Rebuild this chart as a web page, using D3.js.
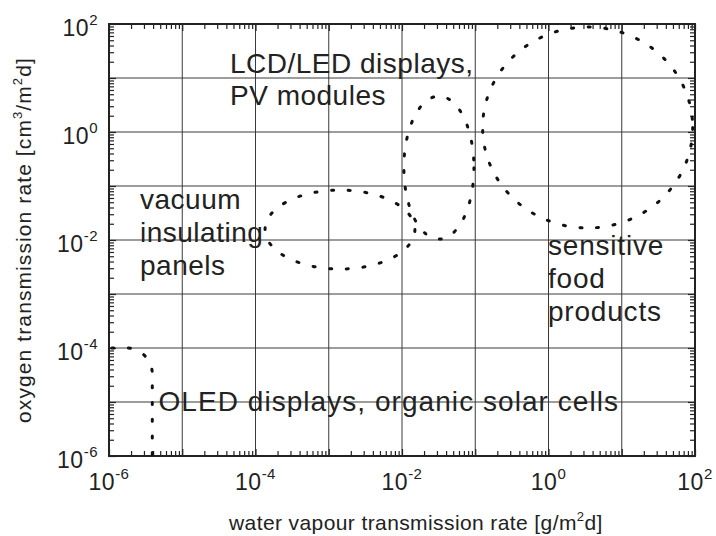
<!DOCTYPE html>
<html>
<head>
<meta charset="utf-8">
<script src="https://cdn.jsdelivr.net/npm/d3@7"></script>
<style>
  body { margin: 0; background: #fff; }
  svg { display: block; }
  text { font-family: "Liberation Sans", Arial, Helvetica, sans-serif; fill: #222; }
</style>
</head>
<body>
<svg id="chart" width="716" height="536"></svg>
<script>
// Axis decades (log10 exponents) and the ones that carry a label
const decadeExponents = [-6, -5, -4, -3, -2, -1, 0, 1, 2];
const xLabelExponents = [-6, -4, -2, 0, 2];
const yLabelExponents = [-6, -4, -2, 0, 2];
const minorMultipliers = [2, 3, 4, 5, 6, 7, 8, 9];

// Barrier requirement regions: water vapour (g/m²d) and oxygen (cm³/m²d) ranges
const regionNames = ["vacuum insulating panels", "LCD/LED displays, PV modules", "sensitive food products"];
const wvtrLow  = [1.35e-4, 1.06e-2, 0.126];
const wvtrHigh = [1.5e-2,  9.6e-2,  93];
const otrLow   = [2.9e-3,  1.04e-2, 1.67e-2];
const otrHigh  = [8.4e-2,  4.6,     88];

// OLED region: everything below these limits
const oledWvtrMax = 3.9e-6;
const oledOtrMax = 1e-4;
const oledWvtrMin = 1e-7;
const oledOtrMin = 1e-8;

// Region captions
const captionLines = [
  ["LCD/LED displays,", "PV modules"],
  ["vacuum", "insulating", "panels"],
  ["sensitive", "food", "products"],
  ["OLED displays, organic solar cells"]
];

const svg = d3.select("#chart");
const plotLeft = 109, plotRight = 695, plotTop = 24, plotBottom = 456;

const x = d3.scaleLog().domain([1e-6, 1e2]).range([plotLeft, plotRight]);
const y = d3.scaleLog().domain([1e-6, 1e2]).range([plotBottom, plotTop]);

const majors = decadeExponents.map(e => Math.pow(10, e));
const minors = [];
decadeExponents.slice(0, -1).forEach(e => minorMultipliers.forEach(m => minors.push(m * Math.pow(10, e))));

// Grid at every decade
const grid = svg.append("g").attr("stroke", "#3a3a3a").attr("stroke-width", 1);
grid.selectAll("line.gx").data(majors.slice(1, -1)).join("line")
  .attr("x1", d => x(d)).attr("x2", d => x(d)).attr("y1", plotTop).attr("y2", plotBottom);
grid.selectAll("line.gy").data(majors.slice(1, -1)).join("line")
  .attr("y1", d => y(d)).attr("y2", d => y(d)).attr("x1", plotLeft).attr("x2", plotRight);

// Inward ticks on all four sides
function tickAxis(axisFn, scale, transform) {
  const gMinor = svg.append("g").attr("transform", transform)
    .call(axisFn(scale).tickValues(minors).tickSize(-5).tickFormat(""));
  const gMajor = svg.append("g").attr("transform", transform)
    .call(axisFn(scale).tickValues(majors).tickSize(-7).tickFormat(""));
  [gMinor, gMajor].forEach(g => {
    g.select(".domain").remove();
    g.selectAll(".tick line").attr("stroke", "#222").attr("stroke-width", 1.2);
  });
}
tickAxis(d3.axisBottom, x, `translate(0,${plotBottom})`);
tickAxis(d3.axisTop, x, `translate(0,${plotTop})`);
tickAxis(d3.axisLeft, y, `translate(${plotLeft},0)`);
tickAxis(d3.axisRight, y, `translate(${plotRight},0)`);

// Frame
svg.append("rect").attr("x", plotLeft).attr("y", plotTop)
  .attr("width", plotRight - plotLeft).attr("height", plotBottom - plotTop)
  .attr("fill", "none").attr("stroke", "#222").attr("stroke-width", 2);

// Tick labels as 10 with superscript exponent
function powerLabel(sel, exp) {
  sel.append("tspan").text("10");
  sel.append("tspan").attr("dy", -11).attr("font-size", 15).text(exp);
}
svg.append("g").selectAll("text").data(xLabelExponents).join("text")
  .attr("x", d => x(Math.pow(10, d))).attr("y", 490)
  .attr("text-anchor", "middle").attr("font-size", 23).attr("letter-spacing", 0.5)
  .each(function(d) { powerLabel(d3.select(this), d); });
svg.append("g").selectAll("text").data(yLabelExponents).join("text")
  .attr("x", 98).attr("y", d => y(Math.pow(10, d)) + 12)
  .attr("text-anchor", "end").attr("font-size", 23).attr("letter-spacing", 0.5)
  .each(function(d) { powerLabel(d3.select(this), d); });

// Axis titles
const xt = svg.append("text").attr("x", 229).attr("y", 530)
  .attr("font-size", 21).attr("letter-spacing", 0.4);
xt.append("tspan").text("water vapour transmission rate [g/m");
xt.append("tspan").attr("dy", -9).attr("font-size", 13).text("2");
xt.append("tspan").attr("dy", 9).text("d]");

const yt = svg.append("text").attr("transform", `translate(31,${(plotTop + plotBottom) / 2}) rotate(-90)`)
  .attr("text-anchor", "middle").attr("font-size", 21).attr("letter-spacing", 1.1);
yt.append("tspan").text("oxygen transmission rate [cm");
yt.append("tspan").attr("dy", -9).attr("font-size", 13).text("3");
yt.append("tspan").attr("dy", 9).text("/m");
yt.append("tspan").attr("dy", -9).attr("font-size", 13).text("2");
yt.append("tspan").attr("dy", 9).text("d]");

// Dotted region outlines, clipped to the plot area
svg.append("clipPath").attr("id", "plotClip").append("rect")
  .attr("x", plotLeft).attr("y", plotTop).attr("width", plotRight - plotLeft).attr("height", plotBottom - plotTop);
const regions = svg.append("g").attr("clip-path", "url(#plotClip)")
  .attr("fill", "none").attr("stroke", "#111").attr("stroke-width", 3)
  .attr("stroke-linecap", "round").attr("stroke-dasharray", "2 14.7");

regions.selectAll("ellipse").data(regionNames).join("ellipse")
  .attr("cx", (d, i) => (x(wvtrLow[i]) + x(wvtrHigh[i])) / 2)
  .attr("cy", (d, i) => (y(otrLow[i]) + y(otrHigh[i])) / 2)
  .attr("rx", (d, i) => (x(wvtrHigh[i]) - x(wvtrLow[i])) / 2)
  .attr("ry", (d, i) => (y(otrLow[i]) - y(otrHigh[i])) / 2);

regions.append("rect")
  .attr("x", x(oledWvtrMin)).attr("y", y(oledOtrMax))
  .attr("width", x(oledWvtrMax) - x(oledWvtrMin))
  .attr("height", y(oledOtrMin) - y(oledOtrMax))
  .attr("rx", 26).attr("ry", 26);

// Region captions: [x, first baseline, line height, letter spacing]
const captionPos = [[230, 73, 32, 0.5], [140, 209, 33, 0.5], [548, 255, 33, 0.8], [158.5, 411, 0, 1.05]];
captionLines.forEach((lines, i) => {
  const [cx0, cy0, lh, ls] = captionPos[i];
  svg.append("text").attr("font-size", 28).attr("letter-spacing", ls)
    .selectAll("tspan").data(lines).join("tspan")
    .attr("x", cx0).attr("y", (d, j) => cy0 + j * lh).text(d => d);
});
</script>
</body>
</html>
